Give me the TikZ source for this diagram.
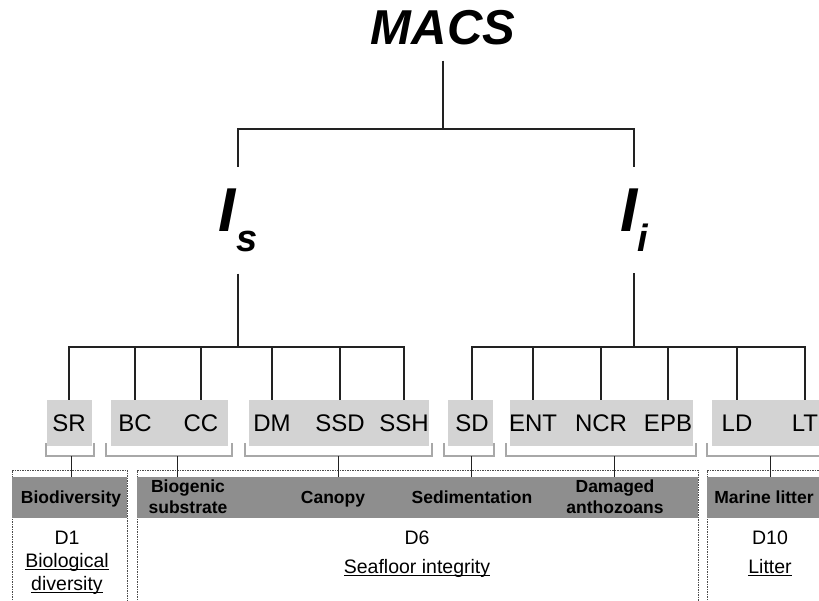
\documentclass[tikz,border=0pt]{standalone}
\usepackage{fontspec}
\setmainfont{Liberation Sans}
\definecolor{conn}{HTML}{222222}
\definecolor{boxgray}{HTML}{D3D3D3}
\definecolor{bandgray}{HTML}{8E8E8E}
\definecolor{brgray}{HTML}{A8A8A8}
\newcommand{\ulx}[1]{\setbox0\hbox{#1}\rlap{\rule[-3pt]{\wd0}{1.2pt}}\box0}
\begin{document}
\begin{tikzpicture}[x=1pt,y=-1pt,
  conn/.style={draw=conn, line width=1.4pt},
  leaf/.style={inner sep=0pt, minimum height=46pt, font=\fontsize{24}{28}\selectfont},
  grp/.style={fill=boxgray},
  bracket/.style={draw=brgray, line width=1.2pt},
  stem/.style={draw=conn, line width=0.9pt},
  dbox/.style={draw=black!70, line width=0.7pt, dash pattern=on 1.5pt off 1pt},
  band/.style={fill=bandgray, inner sep=0pt, anchor=north west, minimum height=41pt},
  btext/.style={font=\bfseries\fontsize{17.5}{21}\selectfont, align=center, inner sep=0pt},
  dtext/.style={font=\fontsize{19.5}{23}\selectfont, anchor=base, inner sep=0pt},
  big/.style={font=\bfseries\itshape\fontsize{62}{62}\selectfont, anchor=base, inner sep=0pt}
]
\useasboundingbox (0,0) rectangle (819,601);

% title and level 1
\node[font=\bfseries\itshape\fontsize{49}{50}\selectfont, anchor=base, inner sep=0pt] (macs) at (443,45) {MACS};
\node[big] (Is) at (238,232) {I\raisebox{-20pt}{\fontsize{38}{38}\selectfont s}};
\node[big] (Ii) at (634,232) {I\raisebox{-20pt}{\fontsize{38}{38}\selectfont i}};
\coordinate (j0) at (443,129);
\draw[conn] ([yshift=-15pt]macs.south) -- (j0);
\draw[conn] ([yshift=22.5pt]Is.north) |- (j0) -| ([yshift=22.5pt]Ii.north);

% grey groups
\fill[grp] (47,400) rectangle (92,446);
\fill[grp] (111,400) rectangle (228,446);
\fill[grp] (249,400) rectangle (429,446);
\fill[grp] (448,400) rectangle (493,446);
\fill[grp] (510,400) rectangle (693,446);
\fill[grp] (712,400) rectangle (819,446);

% leaves
\node[leaf] (SR) at (69,423) {SR};
\node[leaf] (BC) at (135,423) {BC};
\node[leaf] (CC) at (201,423) {CC};
\node[leaf] (DM) at (272,423) {DM};
\node[leaf] (SSD) at (340,423) {SSD};
\node[leaf] (SSH) at (404,423) {SSH};
\node[leaf] (SD) at (472,423) {SD};
\node[leaf] (ENT) at (533,423) {ENT};
\node[leaf] (NCR) at (601,423) {NCR};
\node[leaf] (EPB) at (668,423) {EPB};
\node[leaf] (LD) at (737,423) {LD};
\node[leaf] (LT) at (805,423) {LT};

% level 2 connectors
\coordinate (bl) at (238,347);
\coordinate (br) at (634,347);
\draw[conn] ([yshift=-21pt]Is.south) -- (bl);
\draw[conn] ([yshift=-21pt]Ii.south) -- (br);
\draw[conn] (SR.north) |- (bl) -| (SSH.north);
\foreach \n in {BC,CC,DM,SSD} \draw[conn] (\n.north) -- (\n.north |- bl);
\draw[conn] (SD.north) |- (br) -| (LT.north);
\foreach \n in {ENT,NCR,EPB,LD} \draw[conn] (\n.north) -- (\n.north |- br);

% dashed descriptor boxes
\draw[dbox] (12,605) -- (12,470) -- (127,470) -- (127,605);
\draw[dbox] (137,605) -- (137,470) -- (698,470) -- (698,605);
\draw[dbox] (707,605) -- (707,470) -- (830,470);

% bands
\node[band, minimum width=115pt] (bandA) at (12,477) {};
\node[band, minimum width=561pt] (bandB) at (137,477) {};
\node[band, minimum width=120pt] (bandC) at (707,477) {};

% brackets and stems
\draw[bracket] (46,443) -- (46,456) -- (94,456) -- (94,443);
\draw[bracket] (106,443) -- (106,456) -- (232,456) -- (232,443);
\draw[bracket] (245,443) -- (245,456) -- (432,456) -- (432,443);
\draw[bracket] (444,443) -- (444,456) -- (494,456) -- (494,443);
\draw[bracket] (506,443) -- (506,456) -- (696,456) -- (696,443);
\draw[bracket] (707,443) -- (707,456) -- (830,456);
\coordinate (k1) at (71,456);
\coordinate (k2) at (177,456);
\coordinate (k3) at (338,456);
\coordinate (k4) at (471,456);
\coordinate (k5) at (614,456);
\coordinate (k6) at (770,456);
\draw[stem] (k1) -- (k1 |- bandA.north);
\draw[stem] (k2) -- (k2 |- bandB.north);
\draw[stem] (k3) -- (k3 |- bandB.north);
\draw[stem] (k4) -- (k4 |- bandB.north);
\draw[stem] (k5) -- (k5 |- bandB.north);
\draw[stem] (k6) -- (k6 |- bandC.north);

% band texts
\node[btext, anchor=base] (tBio) at (71,503) {Biodiversity};
\node[btext] (tBs) at (188,497) {Biogenic\\substrate};
\node[btext, anchor=base] (tCan) at (333,503) {Canopy};
\node[btext, anchor=base] (tSed) at (472,503) {Sedimentation};
\node[btext] (tDam) at (615,497) {Damaged\\anthozoans};
\node[btext, anchor=base] (tMar) at (764,503) {Marine litter};

% descriptors
\node[dtext] (d1) at (67,544) {D1};
\node[dtext] (d1a) at (67,567) {\ulx{Biological}};
\node[dtext] (d1b) at (67,590) {\ulx{diversity}};
\node[dtext] (d6) at (417,544) {D6};
\node[dtext] (d6a) at (417,573) {\ulx{Seafloor integrity}};
\node[dtext] (d10) at (770,544) {D10};
\node[dtext] (d10a) at (770,573) {\ulx{Litter}};
\end{tikzpicture}
\end{document}
